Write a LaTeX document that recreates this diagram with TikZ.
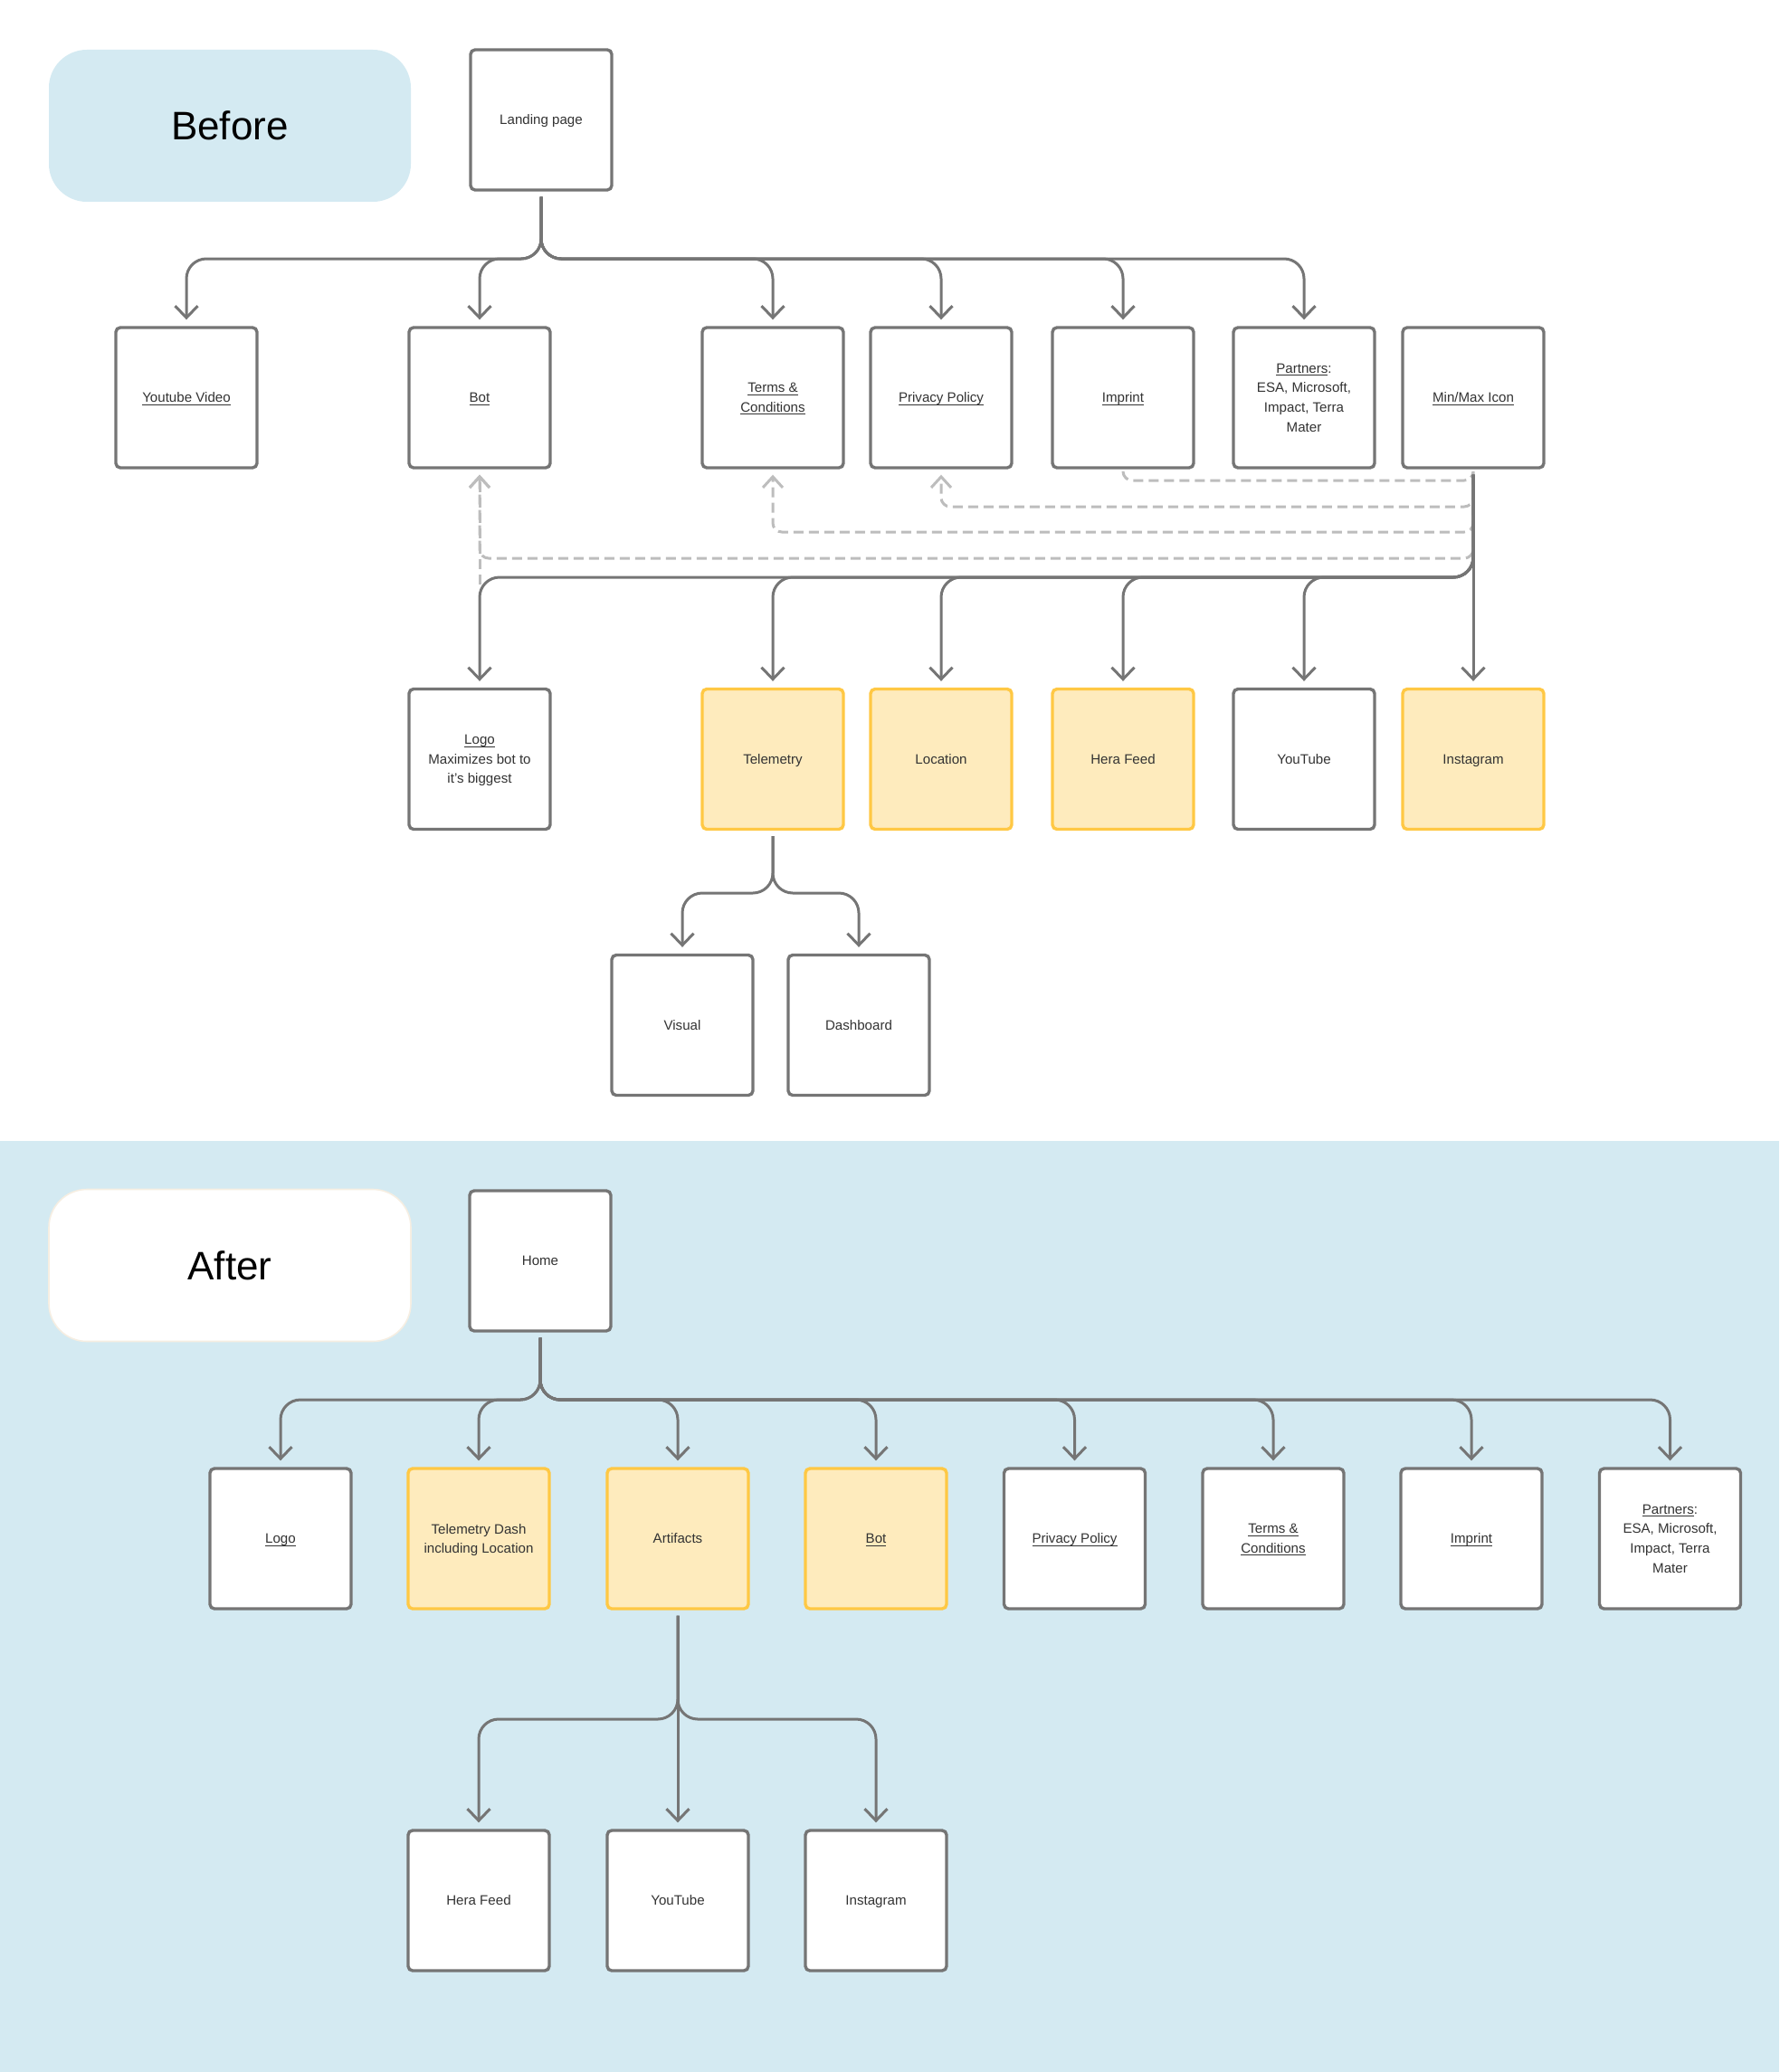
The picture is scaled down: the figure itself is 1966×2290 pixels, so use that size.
\documentclass[tikz,border=0pt]{standalone}
\usepackage{fontspec}
\setmainfont{Liberation Sans}
\usetikzlibrary{arrows.meta}
\definecolor{boxgray}{HTML}{757575}
\definecolor{txt}{HTML}{333333}
\definecolor{yfill}{HTML}{FEEBBD}
\definecolor{ydraw}{HTML}{FFC844}
\definecolor{lblue}{HTML}{D4EAF2}
\definecolor{dgray}{HTML}{BDBDBD}
\definecolor{cream}{HTML}{F6EEE2}
\newcommand\ulx[1]{\setbox0=\hbox{#1}\rlap{\rule[-1.4pt]{\wd0}{0.45pt}}\box0}
\tikzset{
  pg/.style={rectangle, rounded corners=2.5pt, draw=boxgray, line width=1.7pt, fill=white,
    minimum width=78pt, minimum height=77.5pt, inner sep=0pt, align=center, text=txt,
    text depth=0pt, font=\fontsize{7.55}{10.8}\selectfont},
  hl/.style={pg, fill=yfill, draw=ydraw},
  titlebox/.style={rectangle, rounded corners=21pt, minimum width=200pt, minimum height=84pt,
    inner sep=0pt, text depth=0pt, font=\fontsize{22}{26}\selectfont, text=black},
  conn/.style={draw=boxgray, line width=1.5pt, rounded corners=11pt, shorten <=3pt, shorten >=3.5pt,
    -{Straight Barb[length=6.5pt,width=12.5pt]}},
  dconn/.style={draw=dgray, line width=1.5pt, rounded corners=5pt, dash pattern=on 5.5pt off 3pt,
    shorten <=3pt, shorten >=3pt, -{Straight Barb[length=6pt,width=11pt]}},
  dplain/.style={dconn, -}
}
\begin{document}
\begin{tikzpicture}[x=0.5pt, y=-0.5pt]
\useasboundingbox (0,0) rectangle (1966,2290);
\fill[white] (0,0) rectangle (1966,1261);
\fill[lblue] (0,1261) rectangle (1966,2290);

% ---------- Before ----------
\node[titlebox, fill=lblue] (before) at (254,139) {Before};
\node[pg] (lp) at (598,132.5) {Landing page};

\node[pg] (yt)  at (206,439.5)  {\ulx{Youtube Video}};
\node[pg] (bot) at (530,439.5)  {\ulx{Bot}};
\node[pg] (tc)  at (854,439.5)  {\ulx{Terms \&}\\\ulx{Conditions}};
\node[pg] (pp)  at (1040,439.5) {\ulx{Privacy Policy}};
\node[pg] (imp) at (1241,439.5) {\ulx{Imprint}};
\node[pg] (par) at (1441,439.5) {\ulx{Partners}:\\ESA, Microsoft,\\Impact, Terra\\Mater};
\node[pg] (mm)  at (1628,439.5) {\ulx{Min/Max Icon}};

\node[pg] (logo) at (530,839)  {\ulx{Logo}\\Maximizes bot to\\it’s biggest};
\node[hl] (tel)  at (854,839)  {Telemetry};
\node[hl] (loc)  at (1040,839) {Location};
\node[hl] (hera) at (1241,839) {Hera Feed};
\node[pg] (ytb)  at (1441,839) {YouTube};
\node[hl] (ig)   at (1628,839) {Instagram};

\node[pg] (vis)  at (754,1133) {Visual};
\node[pg] (dsh)  at (949,1133) {Dashboard};

\coordinate (busA) at (0,286);
\coordinate (busB) at (0,638);
\coordinate (busC) at (0,987);
\coordinate (d1) at (0,531);
\coordinate (d2) at (0,560);
\coordinate (d3) at (0,588);
\coordinate (d4) at (0,617);
\coordinate (logojoin) at (530,646);

% dashed links
\draw[dplain] (mm.south) -- (mm.south |- d1) -| (imp.south);
\draw[dconn] (mm.south) -- (mm.south |- d2) -| (pp.south);
\draw[dconn] (mm.south) -- (mm.south |- d3) -| (tc.south);
\draw[dconn] (mm.south) -- (mm.south |- d4) -| (bot.south);
\draw[dconn, shorten <=0pt] (logojoin) -- (bot.south);

% solid links
\foreach \c in {yt,bot,tc,pp,imp,par}
  \draw[conn] (lp.south) -- (lp.south |- busA) -| (\c.north);
\foreach \c in {logo,tel,loc,hera,ytb}
  \draw[conn] (mm.south) -- (mm.south |- busB) -| (\c.north);
\draw[conn] (mm.south) -- (ig.north);
\foreach \c in {vis,dsh}
  \draw[conn] (tel.south) -- (tel.south |- busC) -| (\c.north);

% ---------- After ----------
\node[titlebox, fill=white, draw=cream, line width=0.8pt] (after) at (254,1398.5) {After};
\node[pg] (home) at (597,1393.5) {Home};

\node[pg] (alogo) at (310,1700.5)    {\ulx{Logo}};
\node[hl] (atel)  at (529,1700.5)    {Telemetry Dash\\including Location};
\node[hl] (art)   at (749,1700.5)    {Artifacts};
\node[hl] (abot)  at (968,1700.5)    {\ulx{Bot}};
\node[pg] (app)   at (1187.5,1700.5) {\ulx{Privacy Policy}};
\node[pg] (atc)   at (1407,1700.5)   {\ulx{Terms \&}\\\ulx{Conditions}};
\node[pg] (aimp)  at (1626,1700.5)   {\ulx{Imprint}};
\node[pg] (apar)  at (1845.5,1700.5) {\ulx{Partners}:\\ESA, Microsoft,\\Impact, Terra\\Mater};

\node[pg] (ahera) at (529,2100.5) {Hera Feed};
\node[pg] (ayt)   at (749,2100.5) {YouTube};
\node[pg] (aig)   at (968,2100.5) {Instagram};

\coordinate (busD) at (0,1547);
\coordinate (busE) at (0,1900);

\foreach \c in {alogo,atel,art,abot,app,atc,aimp,apar}
  \draw[conn] (home.south) -- (home.south |- busD) -| (\c.north);
\foreach \c in {ahera,aig}
  \draw[conn] (art.south) -- (art.south |- busE) -| (\c.north);
\draw[conn] (art.south) -- (ayt.north);
\end{tikzpicture}
\end{document}
